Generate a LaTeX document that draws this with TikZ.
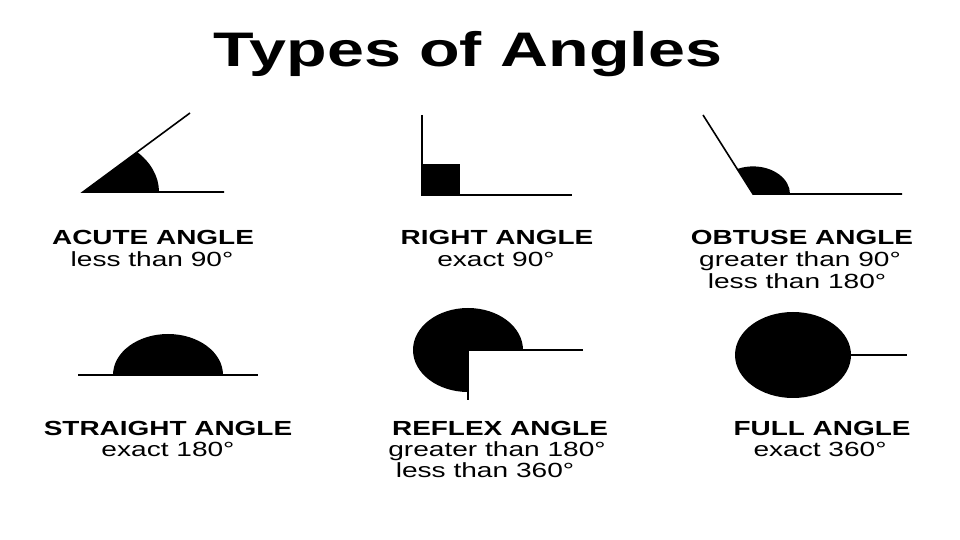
\documentclass[tikz,border=0pt]{standalone}
\usepackage{fontspec}
\newfontfamily\labfont[FakeStretch=1.37]{Liberation Sans}
\begin{document}
\begin{tikzpicture}[x=1pt,y=1pt,
  ray/.style={line width=1.6pt,black},
  headtxt/.style={anchor=base,inner sep=0pt,font=\labfont\fontsize{20.4}{24}\selectfont\bfseries},
  subtxt/.style={anchor=base,inner sep=0pt,font=\labfont\fontsize{20.5}{23}\selectfont},
  titletxt/.style={anchor=base,inner sep=0pt,font=\labfont\fontsize{48.5}{52}\selectfont\bfseries}]
\useasboundingbox[fill=white] (0,0) rectangle (960,540);

\node[titletxt] (title) at (468,473) {Types of Angles};

% ---------- acute ----------
\coordinate (acV) at (83,348);
\coordinate (acE) at (224,348);
\coordinate (acR) at (190,427);
\begin{scope}
  \clip (acV) -- (283,348) -- (297,506) -- cycle;
  \fill (acV) ellipse [x radius=76, y radius=57];
\end{scope}
\draw[ray] (acE) -- (acV) -- (acR);
\node[headtxt] (acH) at (153,295) {ACUTE ANGLE};
\node[subtxt] (acS) at (152,273) {less than 90°};

% ---------- right ----------
\coordinate (riV) at (422,345);
\coordinate (riT) at (422,425);
\coordinate (riE) at (572,345);
\fill (riV) rectangle (460,376);
\draw[ray] (riT) -- (riV) -- (riE);
\node[headtxt] (riH) at (497,295) {RIGHT ANGLE};
\node[subtxt] (riS) at (496,273) {exact 90°};

% ---------- obtuse ----------
\coordinate (obV) at (753,346);
\coordinate (obR) at (703,425);
\coordinate (obE) at (902,346);
\begin{scope}
  \clip (obV) -- (853,346) -- (853,446) -- (652,504) -- cycle;
  \fill (obV) ellipse [x radius=37, y radius=27.6];
\end{scope}
\draw[ray] (obE) -- (obV) -- (obR);
\node[headtxt] (obH) at (802,295) {OBTUSE ANGLE};
\node[subtxt] (obS1) at (800,273) {greater than 90°};
\node[subtxt] (obS2) at (797,251) {less than 180°};

% ---------- straight ----------
\coordinate (stV) at (168,165);
\coordinate (stL) at (78,165);
\coordinate (stE) at (258,165);
\begin{scope}
  \clip (100,165) rectangle (240,230);
  \fill (stV) ellipse [x radius=55, y radius=41];
\end{scope}
\draw[ray] (stL) -- (stE);
\node[headtxt] (stH) at (168,104) {STRAIGHT ANGLE};
\node[subtxt] (stS) at (168,83) {exact 180°};

% ---------- reflex ----------
\coordinate (reV) at (468,190);
\coordinate (reE) at (583,190);
\coordinate (reD) at (468,140);
\begin{scope}
  \clip (reV) -- (600,190) -- (600,260) -- (350,260) -- (350,120) -- (468,120) -- cycle;
  \fill (reV) ellipse [x radius=55, y radius=42];
\end{scope}
\draw[ray] (reE) -- (reV) -- (reD);
\node[headtxt] (reH) at (500,104) {REFLEX ANGLE};
\node[subtxt] (reS1) at (497,83) {greater than 180°};
\node[subtxt] (reS2) at (485,62) {less than 360°};

% ---------- full ----------
\coordinate (fuV) at (793,185);
\coordinate (fuE) at (907,185);
\fill (fuV) ellipse [x radius=58, y radius=43];
\draw[ray] (fuV) -- (fuE);
\node[headtxt] (fuH) at (822,104) {FULL ANGLE};
\node[subtxt] (fuS) at (820,83) {exact 360°};
\end{tikzpicture}
\end{document}
